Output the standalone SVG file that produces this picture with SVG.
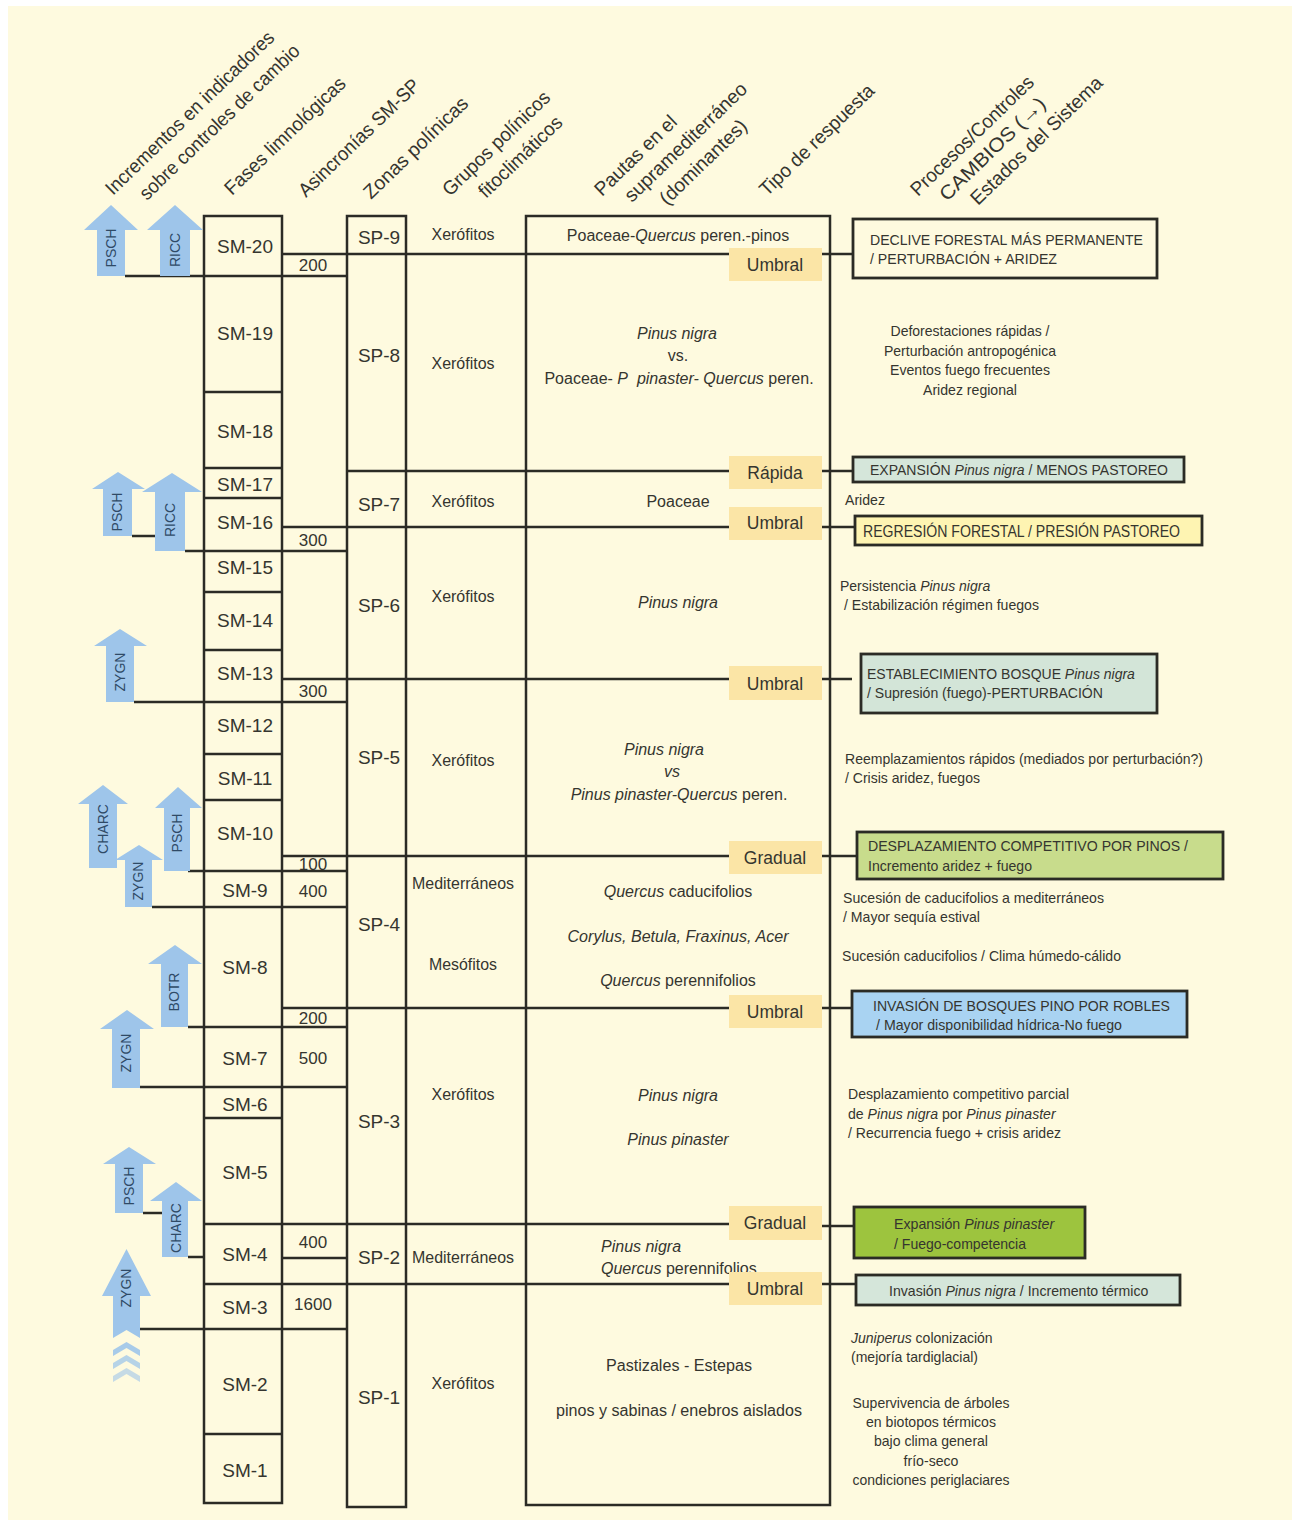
<svg xmlns="http://www.w3.org/2000/svg" width="1296" height="1524" viewBox="0 0 1296 1524">
<defs>
<style>
.ln{stroke:#2b2b25;stroke-width:2.5;fill:none}
.bx{fill:#FEFADF;stroke:#2b2b25;stroke-width:2.5}
.rb{stroke:#2b2b25;stroke-width:2.8}
.t{font-family:"Liberation Sans",Arial,sans-serif;fill:#35352f}
.c{text-anchor:middle}
.i{font-style:italic}
.h{font-size:19.5px}
.sm{font-size:19px}
.g{font-size:16.5px}
.p{font-size:16px}
.n{font-size:17px}
.tp{font-size:17.5px}
.r{font-size:14.5px}
.f{font-size:14.5px}
.tipo{fill:#FBE5A6}
.arr{fill:#9EC5EA}
.at{font-family:"Liberation Sans",Arial,sans-serif;font-size:14px;fill:#2F4A66;text-anchor:middle}
</style>
</defs>
<rect x="0" y="0" width="1296" height="1524" fill="#ffffff"/>
<rect x="8" y="6" width="1284" height="1514" fill="#FEFADF"/>

<!-- headers -->
<g id="headers" class="t h">
<text transform="translate(113,196) rotate(-44)" textLength="226" lengthAdjust="spacingAndGlyphs">Incrementos en indicadores</text>
<text transform="translate(147,201) rotate(-44)" textLength="214" lengthAdjust="spacingAndGlyphs">sobre controles de cambio</text>
<text transform="translate(232,196) rotate(-44)" textLength="160" lengthAdjust="spacingAndGlyphs">Fases limnológicas</text>
<text transform="translate(306,198) rotate(-44)" textLength="160" lengthAdjust="spacingAndGlyphs">Asincronías SM-SP</text>
<text transform="translate(371,200) rotate(-44)" textLength="137" lengthAdjust="spacingAndGlyphs">Zonas polínicas</text>
<text transform="translate(450,197) rotate(-44)" textLength="141" lengthAdjust="spacingAndGlyphs">Grupos polínicos</text>
<text transform="translate(486,199) rotate(-44)" textLength="108" lengthAdjust="spacingAndGlyphs">fitoclimáticos</text>
<text transform="translate(602,197) rotate(-44)" textLength="106" lengthAdjust="spacingAndGlyphs">Pautas en el</text>
<text transform="translate(632,203) rotate(-44)" textLength="162" lengthAdjust="spacingAndGlyphs">supramediterráneo</text>
<text transform="translate(667,206) rotate(-44)" textLength="113" lengthAdjust="spacingAndGlyphs">(dominantes)</text>
<text transform="translate(767,197) rotate(-44)" textLength="151" lengthAdjust="spacingAndGlyphs">Tipo de respuesta</text>
<text transform="translate(918,197) rotate(-44)" textLength="163" lengthAdjust="spacingAndGlyphs">Procesos/Controles</text>
<text transform="translate(947,202) rotate(-44)" textLength="139" lengthAdjust="spacingAndGlyphs">CAMBIOS (→)</text>
<text transform="translate(978,206) rotate(-44)" textLength="175" lengthAdjust="spacingAndGlyphs">Estados del Sistema</text>
</g>

<!-- columns -->
<g id="columns">
<rect id="sm-box" class="bx" x="204" y="216" width="78" height="1287"/>
<rect id="sp-box" class="bx" x="347" y="216" width="59" height="1291"/>
<rect id="pautas-box" class="bx" x="526" y="216" width="304" height="1289"/>
</g>

<!-- connectors / boundary lines -->
<g id="connectors" class="ln">
<line x1="204" y1="392" x2="282" y2="392"/>
<line x1="204" y1="468" x2="282" y2="468"/>
<line x1="204" y1="498" x2="282" y2="498"/>
<line x1="204" y1="592" x2="282" y2="592"/>
<line x1="204" y1="650" x2="282" y2="650"/>
<line x1="204" y1="754" x2="282" y2="754"/>
<line x1="204" y1="800" x2="282" y2="800"/>
<line x1="204" y1="1118" x2="282" y2="1118"/>
<line x1="204" y1="1434" x2="282" y2="1434"/>
<line x1="125" y1="276" x2="347" y2="276"/>
<line x1="185" y1="551" x2="347" y2="551"/>
<line x1="132" y1="536" x2="155" y2="536"/>
<line x1="134" y1="702" x2="347" y2="702"/>
<line x1="188" y1="871" x2="347" y2="871"/>
<line x1="152" y1="907" x2="347" y2="907"/>
<line x1="188" y1="1027" x2="347" y2="1027"/>
<line x1="140" y1="1087" x2="347" y2="1087"/>
<line x1="143" y1="1213" x2="162" y2="1213"/>
<line x1="188" y1="1257" x2="204" y2="1257"/>
<line x1="282" y1="1258" x2="347" y2="1258"/>
<line x1="140" y1="1329" x2="347" y2="1329"/>
<line x1="282" y1="254" x2="852" y2="254"/>
<line x1="347" y1="471" x2="852" y2="471"/>
<line x1="282" y1="527" x2="855" y2="527"/>
<line x1="282" y1="679" x2="852" y2="679"/>
<line x1="282" y1="856" x2="857" y2="856"/>
<line x1="282" y1="1008" x2="852" y2="1008"/>
<line x1="204" y1="1224" x2="729" y2="1224"/>
<line x1="822" y1="1226" x2="854" y2="1226"/>
<line x1="204" y1="1284" x2="856" y2="1284"/>
</g>

<!-- SM labels -->
<g id="sm-labels" class="t sm c">
<text x="245" y="253">SM-20</text>
<text x="245" y="340">SM-19</text>
<text x="245" y="438">SM-18</text>
<text x="245" y="491">SM-17</text>
<text x="245" y="529">SM-16</text>
<text x="245" y="574">SM-15</text>
<text x="245" y="627">SM-14</text>
<text x="245" y="680">SM-13</text>
<text x="245" y="732">SM-12</text>
<text x="245" y="785">SM-11</text>
<text x="245" y="840">SM-10</text>
<text x="245" y="897">SM-9</text>
<text x="245" y="974">SM-8</text>
<text x="245" y="1065">SM-7</text>
<text x="245" y="1111">SM-6</text>
<text x="245" y="1179">SM-5</text>
<text x="245" y="1261">SM-4</text>
<text x="245" y="1314">SM-3</text>
<text x="245" y="1391">SM-2</text>
<text x="245" y="1477">SM-1</text>
</g>

<!-- asincronias -->
<g id="asincronias" class="t n c">
<text x="313" y="271">200</text>
<text x="313" y="546">300</text>
<text x="313" y="697">300</text>
<text x="313" y="870">100</text>
<text x="313" y="897">400</text>
<text x="313" y="1024">200</text>
<text x="313" y="1064">500</text>
<text x="313" y="1248">400</text>
<text x="313" y="1310">1600</text>
</g>

<!-- SP labels -->
<g id="sp-labels" class="t sm c">
<text x="379" y="244">SP-9</text>
<text x="379" y="362">SP-8</text>
<text x="379" y="511">SP-7</text>
<text x="379" y="612">SP-6</text>
<text x="379" y="764">SP-5</text>
<text x="379" y="931">SP-4</text>
<text x="379" y="1128">SP-3</text>
<text x="379" y="1264">SP-2</text>
<text x="379" y="1404">SP-1</text>
</g>

<!-- grupos -->
<g id="grupos" class="t g c">
<text x="463" y="240" textLength="63" lengthAdjust="spacingAndGlyphs">Xerófitos</text>
<text x="463" y="369" textLength="63" lengthAdjust="spacingAndGlyphs">Xerófitos</text>
<text x="463" y="507" textLength="63" lengthAdjust="spacingAndGlyphs">Xerófitos</text>
<text x="463" y="602" textLength="63" lengthAdjust="spacingAndGlyphs">Xerófitos</text>
<text x="463" y="766" textLength="63" lengthAdjust="spacingAndGlyphs">Xerófitos</text>
<text x="463" y="889" textLength="102" lengthAdjust="spacingAndGlyphs">Mediterráneos</text>
<text x="463" y="970" textLength="68" lengthAdjust="spacingAndGlyphs">Mesófitos</text>
<text x="463" y="1100" textLength="63" lengthAdjust="spacingAndGlyphs">Xerófitos</text>
<text x="463" y="1263" textLength="102" lengthAdjust="spacingAndGlyphs">Mediterráneos</text>
<text x="463" y="1389" textLength="63" lengthAdjust="spacingAndGlyphs">Xerófitos</text>
</g>

<!-- pautas -->
<g id="pautas" class="t p c">
<text x="678" y="241">Poaceae-<tspan class="i">Quercus</tspan> peren.-pinos</text>
<text x="677" y="339" class="i">Pinus nigra</text>
<text x="678" y="361">vs.</text>
<text x="679" y="384">Poaceae- <tspan class="i">P&#160; pinaster- Quercus</tspan> peren.</text>
<text x="678" y="507">Poaceae</text>
<text x="678" y="608" class="i">Pinus nigra</text>
<text x="664" y="755" class="i">Pinus nigra</text>
<text x="672" y="777" class="i">vs</text>
<text x="679" y="800"><tspan class="i">Pinus pinaster-Quercus</tspan> peren.</text>
<text x="678" y="897"><tspan class="i">Quercus</tspan> caducifolios</text>
<text x="678" y="942" class="i" textLength="221" lengthAdjust="spacingAndGlyphs">Corylus, Betula, Fraxinus, Acer</text>
<text x="678" y="986"><tspan class="i">Quercus</tspan> perennifolios</text>
<text x="678" y="1101" class="i">Pinus nigra</text>
<text x="678" y="1145" class="i">Pinus pinaster</text>
<text x="601" y="1252" class="i" style="text-anchor:start">Pinus nigra</text>
<text x="601" y="1274" style="text-anchor:start"><tspan class="i">Quercus</tspan> perennifolios</text>
<text x="679" y="1371" textLength="146" lengthAdjust="spacingAndGlyphs">Pastizales - Estepas</text>
<text x="679" y="1416" textLength="246" lengthAdjust="spacingAndGlyphs">pinos y sabinas / enebros aislados</text>
</g>

<!-- tipo de respuesta -->
<g id="tipo" class="t tp c">
<rect class="tipo" x="729" y="248" width="93" height="33"/><text x="775" y="271">Umbral</text>
<rect class="tipo" x="729" y="456" width="93" height="33"/><text x="775" y="479">Rápida</text>
<rect class="tipo" x="729" y="507" width="93" height="33"/><text x="775" y="529">Umbral</text>
<rect class="tipo" x="729" y="666" width="93" height="34"/><text x="775" y="690">Umbral</text>
<rect class="tipo" x="729" y="841" width="93" height="33"/><text x="775" y="864">Gradual</text>
<rect class="tipo" x="729" y="995" width="93" height="33"/><text x="775" y="1018">Umbral</text>
<rect class="tipo" x="729" y="1206" width="93" height="34"/><text x="775" y="1229">Gradual</text>
<rect class="tipo" x="729" y="1272" width="93" height="33"/><text x="775" y="1295">Umbral</text>
</g>

<!-- right boxes -->
<g id="box-declive">
<rect class="rb" x="853" y="219" width="304" height="59" fill="#FEFADF"/>
<text class="t r" x="870" y="245" textLength="273" lengthAdjust="spacingAndGlyphs">DECLIVE FORESTAL MÁS PERMANENTE</text>
<text class="t r" x="870" y="264" textLength="187" lengthAdjust="spacingAndGlyphs">/ PERTURBACIÓN + ARIDEZ</text>
</g>
<g id="box-expansion">
<rect class="rb" x="853" y="457" width="331" height="25" fill="#D5E6DA"/>
<text class="t" font-size="14" x="870" y="475">EXPANSIÓN <tspan class="i">Pinus nigra</tspan> / MENOS PASTOREO</text>
</g>
<g id="box-regresion">
<rect class="rb" x="855" y="516" width="347" height="29" fill="#FEF4B2"/>
<text class="t" font-size="16" x="863" y="537" textLength="317" lengthAdjust="spacingAndGlyphs">REGRESIÓN FORESTAL / PRESIÓN PASTOREO</text>
</g>
<g id="box-establecimiento">
<rect class="rb" x="861" y="654" width="296" height="59" fill="#D3E5D8"/>
<text class="t" font-size="14" x="867" y="679">ESTABLECIMIENTO BOSQUE <tspan class="i">Pinus nigra</tspan></text>
<text class="t r" x="867" y="698" textLength="236" lengthAdjust="spacingAndGlyphs">/ Supresión (fuego)-PERTURBACIÓN</text>
</g>
<g id="box-desplazamiento">
<rect class="rb" x="857" y="832" width="366" height="47" fill="#C8DC8C"/>
<text class="t r" x="868" y="851" textLength="320" lengthAdjust="spacingAndGlyphs">DESPLAZAMIENTO COMPETITIVO POR PINOS /</text>
<text class="t r" x="868" y="871" textLength="164" lengthAdjust="spacingAndGlyphs">Incremento aridez + fuego</text>
</g>
<g id="box-invasion-robles">
<rect class="rb" x="852" y="991" width="335" height="46" fill="#A9D3F2"/>
<text class="t r" x="873" y="1011" textLength="297" lengthAdjust="spacingAndGlyphs">INVASIÓN DE BOSQUES PINO POR ROBLES</text>
<text class="t r" x="876" y="1030" textLength="246" lengthAdjust="spacingAndGlyphs">/ Mayor disponibilidad hídrica-No fuego</text>
</g>
<g id="box-pinaster">
<rect class="rb" x="854" y="1207" width="231" height="51" fill="#9DC43E"/>
<text class="t" font-size="14.2" x="894" y="1229">Expansión <tspan class="i">Pinus pinaster</tspan></text>
<text class="t r" x="894" y="1249" textLength="132" lengthAdjust="spacingAndGlyphs">/ Fuego-competencia</text>
</g>
<g id="box-invasion-nigra">
<rect class="rb" x="856" y="1275" width="324" height="30" fill="#D5E6DA"/>
<text class="t" font-size="14.1" x="889" y="1296">Invasión <tspan class="i">Pinus nigra</tspan> / Incremento térmico</text>
</g>

<!-- free texts -->
<g id="free-texts" class="t f">
<text x="970" y="336" class="c" textLength="159" lengthAdjust="spacingAndGlyphs">Deforestaciones rápidas /</text>
<text x="970" y="356" class="c" textLength="172" lengthAdjust="spacingAndGlyphs">Perturbación antropogénica</text>
<text x="970" y="375" class="c" textLength="160" lengthAdjust="spacingAndGlyphs">Eventos fuego frecuentes</text>
<text x="970" y="395" class="c" textLength="94" lengthAdjust="spacingAndGlyphs">Aridez regional</text>
<text x="845" y="505" textLength="40" lengthAdjust="spacingAndGlyphs">Aridez</text>
<text x="840" y="591" font-size="14">Persistencia <tspan class="i">Pinus nigra</tspan></text>
<text x="844" y="610" textLength="195" lengthAdjust="spacingAndGlyphs">/ Estabilización régimen fuegos</text>
<text x="845" y="764" textLength="358" lengthAdjust="spacingAndGlyphs">Reemplazamientos rápidos (mediados por perturbación?)</text>
<text x="845" y="783" textLength="135" lengthAdjust="spacingAndGlyphs">/ Crisis aridez, fuegos</text>
<text x="843" y="903" textLength="261" lengthAdjust="spacingAndGlyphs">Sucesión de caducifolios a mediterráneos</text>
<text x="843" y="922" textLength="137" lengthAdjust="spacingAndGlyphs">/ Mayor sequía estival</text>
<text x="842" y="961" textLength="279" lengthAdjust="spacingAndGlyphs">Sucesión caducifolios / Clima húmedo-cálido</text>
<text x="848" y="1099" textLength="221" lengthAdjust="spacingAndGlyphs">Desplazamiento competitivo parcial</text>
<text x="848" y="1119" font-size="14.1">de <tspan class="i">Pinus nigra</tspan> por <tspan class="i">Pinus pinaster</tspan></text>
<text x="848" y="1138" textLength="213" lengthAdjust="spacingAndGlyphs">/ Recurrencia fuego + crisis aridez</text>
<text x="851" y="1343" font-size="14"><tspan class="i">Juniperus</tspan> colonización</text>
<text x="851" y="1362" textLength="127" lengthAdjust="spacingAndGlyphs">(mejoría tardiglacial)</text>
<text x="931" y="1408" class="c" textLength="157" lengthAdjust="spacingAndGlyphs">Supervivencia de árboles</text>
<text x="931" y="1427" class="c" textLength="130" lengthAdjust="spacingAndGlyphs">en biotopos térmicos</text>
<text x="931" y="1446" class="c" textLength="114" lengthAdjust="spacingAndGlyphs">bajo clima general</text>
<text x="931" y="1466" class="c" textLength="55" lengthAdjust="spacingAndGlyphs">frío-seco</text>
<text x="931" y="1485" class="c" textLength="157" lengthAdjust="spacingAndGlyphs">condiciones periglaciares</text>
</g>

<!-- arrows -->
<g id="arrow-psch-1"><path class="arr" d="M97 276 L97 230 L84 230 L111 205 L138 230 L125 230 L125 276 Z"/><text class="at" transform="translate(116,248) rotate(-90)">PSCH</text></g>
<g id="arrow-ricc-1"><path class="arr" d="M160 276 L160 230 L147 230 L175 205 L203 230 L190 230 L190 276 Z"/><text class="at" transform="translate(180,250) rotate(-90)">RICC</text></g>
<g id="arrow-psch-2"><path class="arr" d="M103 536 L103 489 L92 489 L118 472 L145 489 L132 489 L132 536 Z"/><text class="at" transform="translate(122,512) rotate(-90)">PSCH</text></g>
<g id="arrow-ricc-2"><path class="arr" d="M155 551 L155 492 L142 492 L172 473 L202 492 L185 492 L185 551 Z"/><text class="at" transform="translate(175,520) rotate(-90)">RICC</text></g>
<g id="arrow-zygn-1"><path class="arr" d="M106 702 L106 646 L94 646 L120 629 L147 646 L134 646 L134 702 Z"/><text class="at" transform="translate(125,672) rotate(-90)">ZYGN</text></g>
<g id="arrow-charc-1"><path class="arr" d="M89 868 L89 804 L78 804 L103 785 L128 804 L117 804 L117 868 Z"/><text class="at" transform="translate(108,829) rotate(-90)">CHARC</text></g>
<g id="arrow-zygn-2"><path class="arr" d="M125 907 L125 860 L115 860 L139 845 L163 860 L152 860 L152 907 Z"/><text class="at" transform="translate(143,881) rotate(-90)">ZYGN</text></g>
<g id="arrow-psch-3"><path class="arr" d="M164 871 L164 808 L155 808 L178 787 L202 808 L190 808 L190 871 Z"/><text class="at" transform="translate(182,833) rotate(-90)">PSCH</text></g>
<g id="arrow-botr"><path class="arr" d="M161 1027 L161 964 L148 964 L175 945 L202 964 L188 964 L188 1027 Z"/><text class="at" transform="translate(179,992) rotate(-90)">BOTR</text></g>
<g id="arrow-zygn-3"><path class="arr" d="M112 1088 L112 1029 L100 1029 L127 1010 L154 1029 L140 1029 L140 1088 Z"/><text class="at" transform="translate(131,1053) rotate(-90)">ZYGN</text></g>
<g id="arrow-psch-4"><path class="arr" d="M115 1213 L115 1164 L103 1164 L129 1147 L156 1164 L143 1164 L143 1213 Z"/><text class="at" transform="translate(134,1186) rotate(-90)">PSCH</text></g>
<g id="arrow-charc-2"><path class="arr" d="M162 1257 L162 1201 L150 1201 L176 1182 L202 1201 L188 1201 L188 1257 Z"/><text class="at" transform="translate(181,1228) rotate(-90)">CHARC</text></g>
<g id="arrow-zygn-4">
<path class="arr" d="M113 1338 L113 1296 L102 1296 L126.5 1249 L151 1296 L140 1296 L140 1338 L126.5 1330 Z"/>
<path class="arr" opacity="0.9" d="M113 1350 L126.5 1342 L140 1350 L140 1356 L126.5 1348 L113 1356 Z"/>
<path class="arr" opacity="0.75" d="M113 1363 L126.5 1355 L140 1363 L140 1369 L126.5 1361 L113 1369 Z"/>
<path class="arr" opacity="0.6" d="M113 1376 L126.5 1368 L140 1376 L140 1382 L126.5 1374 L113 1382 Z"/>
<text class="at" transform="translate(131,1288) rotate(-90)">ZYGN</text>
</g>
</svg>
